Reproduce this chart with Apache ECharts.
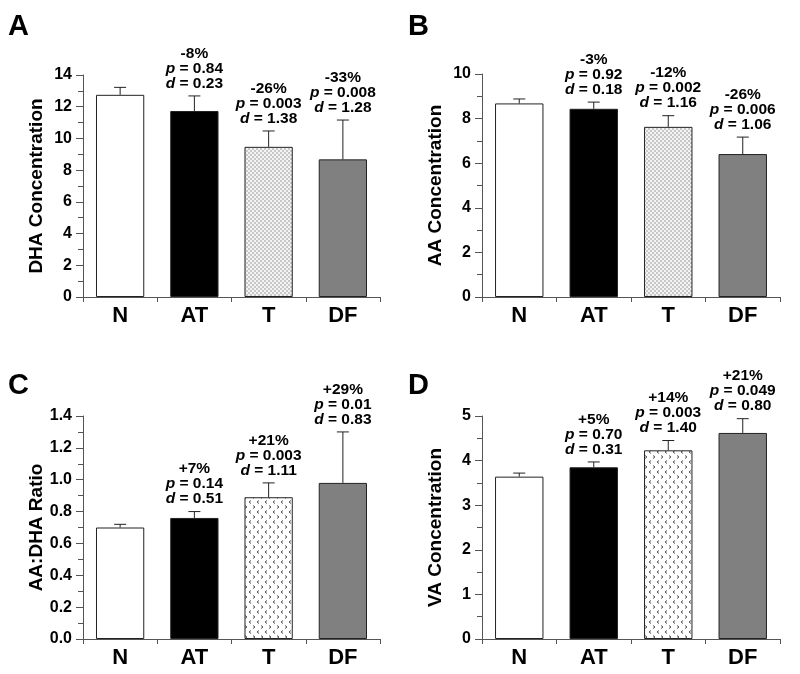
<!DOCTYPE html>
<html><head><meta charset="utf-8">
<script src="https://cdn.jsdelivr.net/npm/echarts@6/dist/echarts.min.js"></script>
<style>html,body{margin:0;padding:0;background:#fff}#c{width:800px;height:674px}</style>
</head><body><div id="c"></div>
<script>
// ---- data ----
const categories = ['N', 'AT', 'T', 'DF'];

const dhaMean  = [12.75, 11.73, 9.47, 8.68];
const dhaUpper = [13.22, 12.68, 10.47, 11.16];
const dhaPct = ['', '-8%', '-26%', '-33%'];
const dhaP   = ['', '0.84', '0.003', '0.008'];
const dhaD   = ['', '0.23', '1.38', '1.28'];

const aaMean  = [8.68, 8.44, 7.63, 6.41];
const aaUpper = [8.88, 8.74, 8.13, 7.17];
const aaPct = ['', '-3%', '-12%', '-26%'];
const aaP   = ['', '0.92', '0.002', '0.006'];
const aaD   = ['', '0.18', '1.16', '1.06'];

const ratioMean  = [0.70, 0.76, 0.89, 0.98];
const ratioUpper = [0.72, 0.80, 0.98, 1.30];
const ratioPct = ['', '+7%', '+21%', '+29%'];
const ratioP   = ['', '0.14', '0.003', '0.01'];
const ratioD   = ['', '0.51', '1.11', '0.83'];

const vaMean  = [3.64, 3.85, 4.23, 4.62];
const vaUpper = [3.72, 3.97, 4.45, 4.94];
const vaPct = ['', '+5%', '+14%', '+21%'];
const vaP   = ['', '0.70', '0.003', '0.049'];
const vaD   = ['', '0.31', '1.40', '0.80'];

const yMax = [14, 10, 1.4, 5];
const yInterval = [2, 2, 0.2, 1];
const yNames = ['DHA Concentration', 'AA Concentration', 'AA:DHA Ratio', 'VA Concentration'];
const panelLetters = ['A', 'B', 'C', 'D'];

// ---- patterns ----
function stipple() {
  const c = document.createElement('canvas'); c.width = 4; c.height = 4;
  const g = c.getContext('2d');
  g.fillStyle = '#f4f4f4'; g.fillRect(0, 0, 4, 4);
  g.fillStyle = '#c8c8c8'; g.fillRect(0, 0, 2, 2); g.fillRect(2, 2, 2, 2);
  return c;
}
function chevrons() {
  const c = document.createElement('canvas'); c.width = 8; c.height = 10;
  const g = c.getContext('2d');
  g.fillStyle = '#ffffff'; g.fillRect(0, 0, 8, 10);
  g.strokeStyle = '#555'; g.lineWidth = 1;
  g.beginPath(); g.moveTo(3, 0.5); g.lineTo(1, 2); g.lineTo(3, 3.5); g.stroke();
  g.beginPath(); g.moveTo(5, 5.5); g.lineTo(7, 7); g.lineTo(5, 8.5); g.stroke();
  return c;
}
const stipImg = stipple(), chevImg = chevrons();

const FONT = "'Liberation Sans', Arial, sans-serif";
const fills = [
  ['#ffffff', '#000000', {image: stipImg, repeat: 'repeat'}, '#808080'],
  ['#ffffff', '#000000', {image: stipImg, repeat: 'repeat'}, '#808080'],
  ['#ffffff', '#000000', {image: chevImg, repeat: 'repeat'}, '#808080'],
  ['#ffffff', '#000000', {image: chevImg, repeat: 'repeat'}, '#808080']
];

const panels = [
  {mean: dhaMean, up: dhaUpper, pct: dhaPct, p: dhaP, d: dhaD},
  {mean: aaMean, up: aaUpper, pct: aaPct, p: aaP, d: aaD},
  {mean: ratioMean, up: ratioUpper, pct: ratioPct, p: ratioP, d: ratioD},
  {mean: vaMean, up: vaUpper, pct: vaPct, p: vaP, d: vaD}
];

const grids = [
  {left: 83, top: 75, right: 420, bottom: 377},
  {left: 482, top: 74, right: 20, bottom: 377},
  {left: 83, top: 416, right: 420, bottom: 35},
  {left: 482, top: 416, right: 20, bottom: 35}
];
const letterPos = [[8, 12], [408, 12], [8, 371], [408, 371]];

const xAxes = [], yAxes = [], series = [], graphics = [];
panels.forEach((pn, k) => {
  xAxes.push({
    type: 'category', gridIndex: k, data: categories,
    axisLine: {lineStyle: {color: '#555', width: 1}},
    axisTick: {show: true, length: 5, lineStyle: {color: '#555'}},
    axisLabel: {fontFamily: FONT, fontWeight: 'bold', fontSize: 22, color: '#000', margin: 8}
  });
  yAxes.push({
    type: 'value', gridIndex: k, min: 0, max: yMax[k], interval: yInterval[k],
    name: yNames[k], nameLocation: 'middle', nameGap: 37, nameRotate: 90,
    nameTextStyle: {fontFamily: FONT, fontWeight: 'bold', fontSize: 19, color: '#000'},
    axisLine: {show: true, lineStyle: {color: '#555', width: 1}},
    axisTick: {show: true, length: 7, lineStyle: {color: '#555'}},
    minorTick: {show: true, splitNumber: 2, length: 5, lineStyle: {color: '#555'}},
    splitLine: {show: false},
    axisLabel: {fontFamily: FONT, fontWeight: 'bold', fontSize: 16, color: '#000', margin: 11,
      formatter: k === 2 ? (v => v.toFixed(1)) : (v => String(v))}
  });
  series.push({
    type: 'bar', xAxisIndex: k, yAxisIndex: k, barCategoryGap: '35%',
    data: pn.mean.map((v, i) => ({value: v, itemStyle: {color: fills[k][i]}})),
    itemStyle: {borderColor: '#222', borderWidth: 1},
    silent: true, animation: false
  });
  series.push({
    type: 'custom', xAxisIndex: k, yAxisIndex: k, z: 5, silent: true, animation: false,
    data: pn.mean.map((v, i) => [i, v, pn.up[i]]),
    renderItem: (params, api) => {
      const i = params.dataIndex;
      const p0 = api.coord([api.value(0), api.value(1)]);
      const p1 = api.coord([api.value(0), api.value(2)]);
      const kids = [
        {type: 'line', shape: {x1: p0[0], y1: p0[1], x2: p1[0], y2: p1[1]}, style: {stroke: '#222', lineWidth: 1}},
        {type: 'line', shape: {x1: p1[0] - 6, y1: p1[1], x2: p1[0] + 6, y2: p1[1]}, style: {stroke: '#222', lineWidth: 1}}
      ];
      if (pn.pct[i]) {
        kids.push({
          type: 'text', x: p1[0], y: p1[1] - 5,
          style: {
            text: pn.pct[i] + '\n{i|p} = ' + pn.p[i] + '\n{i|d} = ' + pn.d[i],
            align: 'center', verticalAlign: 'bottom',
            fontFamily: FONT, fontWeight: 'bold', fontSize: 15.5, lineHeight: 15, fill: '#000',
            rich: {i: {fontFamily: FONT, fontWeight: 'bold', fontStyle: 'italic', fontSize: 15.5, lineHeight: 15, fill: '#000'}}
          }
        });
      }
      return {type: 'group', children: kids};
    }
  });
  graphics.push({
    type: 'text', left: letterPos[k][0], top: letterPos[k][1],
    style: {text: panelLetters[k], fontFamily: FONT, fontWeight: 'bold', fontSize: 29, fill: '#000'}
  });
});

const chart = echarts.init(document.getElementById('c'), null, {renderer: 'canvas'});
chart.setOption({
  backgroundColor: '#fff',
  animation: false,
  grid: grids,
  xAxis: xAxes,
  yAxis: yAxes,
  series: series,
  graphic: graphics
});
</script></body></html>
